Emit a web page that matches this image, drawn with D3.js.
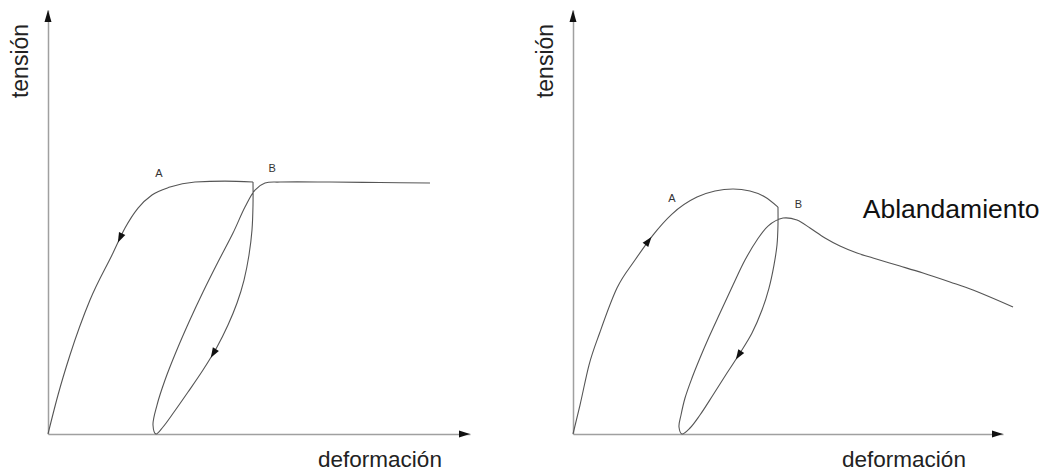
<!DOCTYPE html>
<html>
<head>
<meta charset="utf-8">
<script src="https://cdn.jsdelivr.net/npm/d3@7"></script>
<style>
  html, body { margin: 0; padding: 0; background: #fff; }
  svg { display: block; font-family: "Liberation Sans", Arial, sans-serif; }
</style>
</head>
<body>
<svg id="chart" width="1042" height="474"></svg>
<script>
// ---------- data (strain / stress, arbitrary units 0..100) ----------
const axisTitleX = "deformación";
const axisTitleY = "tensión";
const softeningTitle = "Ablandamiento";
const pointLabels = ["A", "B"];

// Left panel: perfectly plastic
const leftLoading = [[0,0],[2.37,9.24],[5.21,18.72],[9.95,31.75],[15.40,42.89],[18.25,48.82],[21.33,53.55],[24.64,56.64],[28.91,58.53],[34.83,59.72],[41.94,59.95],[48.58,59.72]];
const leftCycle = [[48.58,59.72],[48.58,54.27],[48.34,48.34],[47.63,42.42],[46.45,36.49],[44.79,31.04],[42.65,25.83],[40.05,20.62],[36.73,15.17],[33.18,9.95],[29.86,5.21],[27.25,1.66],[25.59,0],[24.88,2.13],[25.83,6.87],[27.73,12.80],[30.33,19.43],[33.41,26.54],[36.73,33.65],[40.28,40.76],[43.84,47.63],[46.68,53.79],[49.05,57.82],[51.42,59.48],[54.98,59.72],[66.82,59.72],[78.67,59.60],[90.52,59.48]];
const leftLabelPos = [[26.3,61.0],[53.1,62.0]];
const leftArrows = [{at:[17.3,46.4], path:"load", dir:-1},{at:[39.1,19.2], path:"cycle", dir:1}];

// Right panel: softening
const rightLoading = [[0,0],[1.63,6.87],[3.72,16.35],[6.28,24.17],[10.23,34.60],[14.42,41.23],[18.60,47.16],[23.02,52.13],[28.84,56.16],[33.02,57.58],[37.21,58.06],[41.16,57.58],[44.65,56.16],[47.67,53.79]];
const rightCycle = [[47.67,53.79],[47.67,49.53],[47.44,44.79],[46.74,40.05],[45.58,34.60],[43.95,29.38],[41.63,23.93],[38.84,19.19],[35.81,14.45],[32.56,9.24],[29.53,4.50],[27.21,1.42],[25.35,0],[24.65,1.66],[25.12,4.50],[26.05,8.53],[27.67,13.27],[29.53,18.01],[31.63,22.99],[34.19,28.67],[37.21,35.31],[40.00,41.23],[42.79,45.97],[45.35,49.29],[48.84,51.18],[52.09,50.71],[55.12,48.82],[58.60,46.45],[62.09,44.55],[66.05,42.89],[69.77,41.71],[76.05,39.81],[81.40,38.15],[87.67,36.02],[93.02,34.12],[102.33,30.09]];
const rightLabelPos = [[23.0,55.0],[52.4,53.5]];
const rightArrows = [{at:[17.2,46.0], path:"load", dir:1},{at:[38.4,18.7], path:"cycle", dir:1}];
const softeningPos = [67.4, 51.2];

// ---------- drawing ----------
const svg = d3.select("#chart");

const panels = [
  {xRange:[48,470], yRange:[434,10], load:leftLoading, cycle:leftCycle, labels:leftLabelPos, arrows:leftArrows, xTitleX:380, yTitleX:28},
  {xRange:[573,1003], yRange:[434,10], load:rightLoading, cycle:rightCycle, labels:rightLabelPos, arrows:rightArrows, xTitleX:904, yTitleX:553, soft:true}
];

panels.forEach(p => {
  const x = d3.scaleLinear().domain([0,100]).range(p.xRange);
  const y = d3.scaleLinear().domain([0,100.5]).range(p.yRange);
  const g = svg.append("g");

  // axes (no ticks)
  const xAxis = g.append("g").attr("transform", `translate(0,${y(0)})`)
    .call(d3.axisBottom(x).ticks(0).tickSizeOuter(0));
  const yAxis = g.append("g").attr("transform", `translate(${x(0)},0)`)
    .call(d3.axisLeft(y).ticks(0).tickSizeOuter(0));
  [xAxis, yAxis].forEach(a => a.select(".domain").attr("stroke", "#a0a0a0").attr("stroke-width", 1.5));

  // axis arrowheads
  const xe = x(100), y0 = y(0);
  g.append("path").attr("d", `M${xe},${y0} L${xe-11},${y0-3.5} L${xe-11},${y0+3.5} Z`).attr("fill", "#111");
  const ye = y(100.5), x0 = x(0);
  g.append("path").attr("d", `M${x0},${ye} L${x0-3.5},${ye+12} L${x0+3.5},${ye+12} Z`).attr("fill", "#111");

  // titles
  g.append("text").attr("x", p.xTitleX).attr("y", 467).attr("text-anchor", "middle")
    .attr("font-size", 22.5).attr("fill", "#222").text(axisTitleX);
  g.append("text").attr("transform", `translate(${p.yTitleX},61) rotate(-90)`).attr("text-anchor", "middle")
    .attr("font-size", 23).attr("fill", "#222").text(axisTitleY);

  // curves
  const loadLine = d3.line().x(d => x(d[0])).y(d => y(d[1])).curve(d3.curveMonotoneX);
  const line = d3.line().x(d => x(d[0])).y(d => y(d[1])).curve(d3.curveCatmullRom.alpha(0.5));
  const paths = {};
  paths.load = g.append("path").datum(p.load).attr("d", loadLine)
    .attr("fill", "none").attr("stroke", "#555").attr("stroke-width", 1.1);
  paths.cycle = g.append("path").datum(p.cycle).attr("d", line)
    .attr("fill", "none").attr("stroke", "#555").attr("stroke-width", 1.1);

  // arrows on curves
  p.arrows.forEach(a => {
    const node = paths[a.path].node();
    const L = node.getTotalLength();
    const tx = x(a.at[0]), ty = y(a.at[1]);
    let best = 0, bestD = Infinity;
    for (let s = 0; s <= L; s += 0.5) {
      const pt = node.getPointAtLength(s);
      const dd = (pt.x-tx)**2 + (pt.y-ty)**2;
      if (dd < bestD) { bestD = dd; best = s; }
    }
    const p1 = node.getPointAtLength(Math.max(0, best-2));
    const p2 = node.getPointAtLength(Math.min(L, best+2));
    let ang = Math.atan2(p2.y-p1.y, p2.x-p1.x) * 180 / Math.PI;
    if (a.dir < 0) ang += 180;
    const c = node.getPointAtLength(best);
    g.append("path").attr("d", "M5,0 L-5,-3.5 L-5,3.5 Z").attr("fill", "#111")
      .attr("transform", `translate(${c.x},${c.y}) rotate(${ang})`);
  });

  // point labels
  g.selectAll("text.pl").data(p.labels).join("text").attr("class", "pl")
    .attr("x", d => x(d[0])).attr("y", d => y(d[1])).attr("text-anchor", "middle")
    .attr("font-size", 11).attr("fill", "#333").text((d,i) => pointLabels[i]);

  if (p.soft) {
    g.append("text").attr("x", x(softeningPos[0])).attr("y", y(softeningPos[1]))
      .attr("font-size", 26.5).attr("fill", "#111").text(softeningTitle);
  }
});
</script>
</body>
</html>
